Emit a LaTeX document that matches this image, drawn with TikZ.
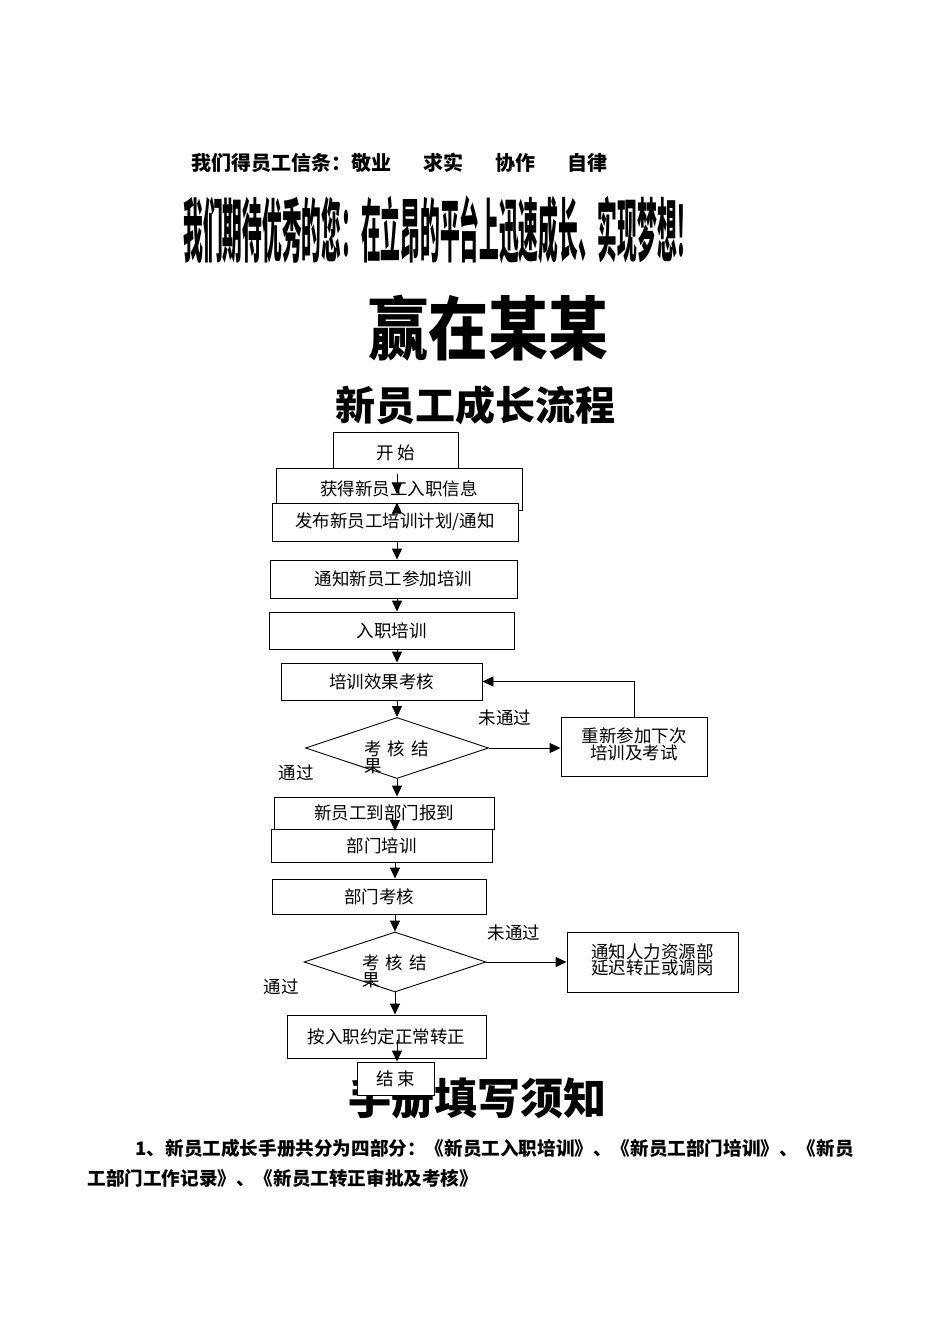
\documentclass[tikz,border=0pt]{standalone}
\usepackage{fontspec}
\setmainfont{Noto Sans CJK SC}
\usetikzlibrary{shapes.geometric,arrows.meta}
\tikzset{
 bx/.style={draw,fill=white,line width=0.9pt,inner sep=0pt,font=\fontsize{17.5}{20}\selectfont},
 dm/.style={draw,fill=white,diamond,line width=0.9pt,inner sep=0pt},
 ar/.style={-{Triangle[length=11pt,width=10pt]},line width=0.9pt},
 lb/.style={font=\fontsize{17.5}{20}\selectfont},
}
\newcommand{\bxat}[6]{\node[bx,minimum width=#3-#2,minimum height=#5-#4] (#1) at ({(#2+#3)/2},{(#4+#5)/2}) {#6};}
\begin{document}
\begin{tikzpicture}[x=1pt,y=-1pt]
\useasboundingbox (0,0) rectangle (950,1344);
\node[font=\bfseries\fontsize{20}{24}\selectfont,anchor=west] (l1) at (188,163) {我们得员工信条：敬业\hspace{1.6em}求实\hspace{1.6em}协作\hspace{1.6em}自律};
\node[font=\bfseries\fontsize{42}{46}\selectfont,xscale=0.47,yscale=1.65] (l2) at (440,230) {我们期待优秀的您：在立昂的平台上迅速成长、实现梦想！};
\node[font=\bfseries\fontsize{60}{66}\selectfont,yscale=1.15] (l3) at (488,328) {赢在某某};
\node[font=\bfseries\fontsize{40}{44}\selectfont] (l4) at (475,405) {新员工成长流程};
\node[font=\bfseries\fontsize{43}{48}\selectfont] (l5) at (477,1098) {手册填写须知};
\node[font=\bfseries\fontsize{18.6}{20}\selectfont,anchor=west] (p1l) at (132,1148) {1、新员工成长手册共分为四部分：《新员工入职培训》、《新员工部门培训》、《新员};
\node[font=\bfseries\fontsize{18.6}{20}\selectfont,anchor=west] (p2l) at (84,1178) {工部门工作记录》、《新员工转正审批及考核》};
\bxat{s}{333}{458}{432}{474}{开 始}
\bxat{a}{276}{522}{468}{510}{获得新员工入职信息}
\bxat{b}{272}{518}{503}{541}{发布新员工培训计划/通知}
\bxat{c}{270}{517}{560}{598}{通知新员工参加培训}
\bxat{d}{269}{514}{612}{649}{入职培训}
\bxat{e}{281}{482}{663}{700}{培训效果考核}
\node[dm,minimum width=183pt,minimum height=61pt,aspect=3] (f) at (397,748) {};
\node[lb,anchor=north west,text width=90pt,align=left] (ft) at (361,737) {考 核 结\\[-3pt]果};
\bxat{g}{561}{707}{717}{776}{\begin{tabular}{@{}c@{}}重新参加下次\\[-4pt]培训及考试\end{tabular}}
\node[lb] (n1) at (505,718) {未通过};
\node[lb] (p1) at (296,773) {通过};
\bxat{h}{274}{494}{797}{829}{新员工到部门报到}
\bxat{i}{271}{492}{829}{862}{部门培训}
\bxat{j}{272}{486}{879}{914}{部门考核}
\node[dm,minimum width=182pt,minimum height=60pt,aspect=3] (k) at (395,962) {};
\node[lb,anchor=north west,text width=90pt,align=left] (kt) at (359,951) {考 核 结\\[-3pt]果};
\bxat{m}{567}{738}{932}{992}{\begin{tabular}{@{}c@{}}通知人力资源部\\[-4pt]延迟转正或调岗\end{tabular}}
\node[lb] (n2) at (514,933) {未通过};
\node[lb] (p2) at (281,987) {通过};
\bxat{q}{287}{486}{1015}{1058}{按入职约定正常转正}
\bxat{r}{357}{434}{1062}{1095}{结 束}
\coordinate (ta) at (397,494);
\coordinate (th) at (395,831);
\draw[ar] (s.south -| ta) -- (ta);
\draw[ar] (a.south -| 397,0) -- (b.north -| 397,0);
\draw[ar] (b.south -| 397,0) -- (c.north -| 397,0);
\draw[ar] (c.south -| 397,0) -- (d.north -| 397,0);
\draw[ar] (d.south -| 397,0) -- (e.north -| 397,0);
\draw[ar] (e.south -| 397,0) -- (f.north);
\draw[ar] (f.east) -- (g.west |- f.east);
\draw[ar] (g.north) |- (e.east);
\draw[ar] (f.south) -- (h.north -| f.south);
\draw[ar] (395,812) -- (th);
\draw[ar] (i.south -| 395,0) -- (j.north -| 395,0);
\draw[ar] (j.south -| 395,0) -- (k.north);
\draw[ar] (k.east) -- (m.west |- k.east);
\draw[ar] (k.south) -- (q.north -| k.south);
\draw[ar] (397,1040) -- (r.north -| 397,0);
\end{tikzpicture}
\end{document}
